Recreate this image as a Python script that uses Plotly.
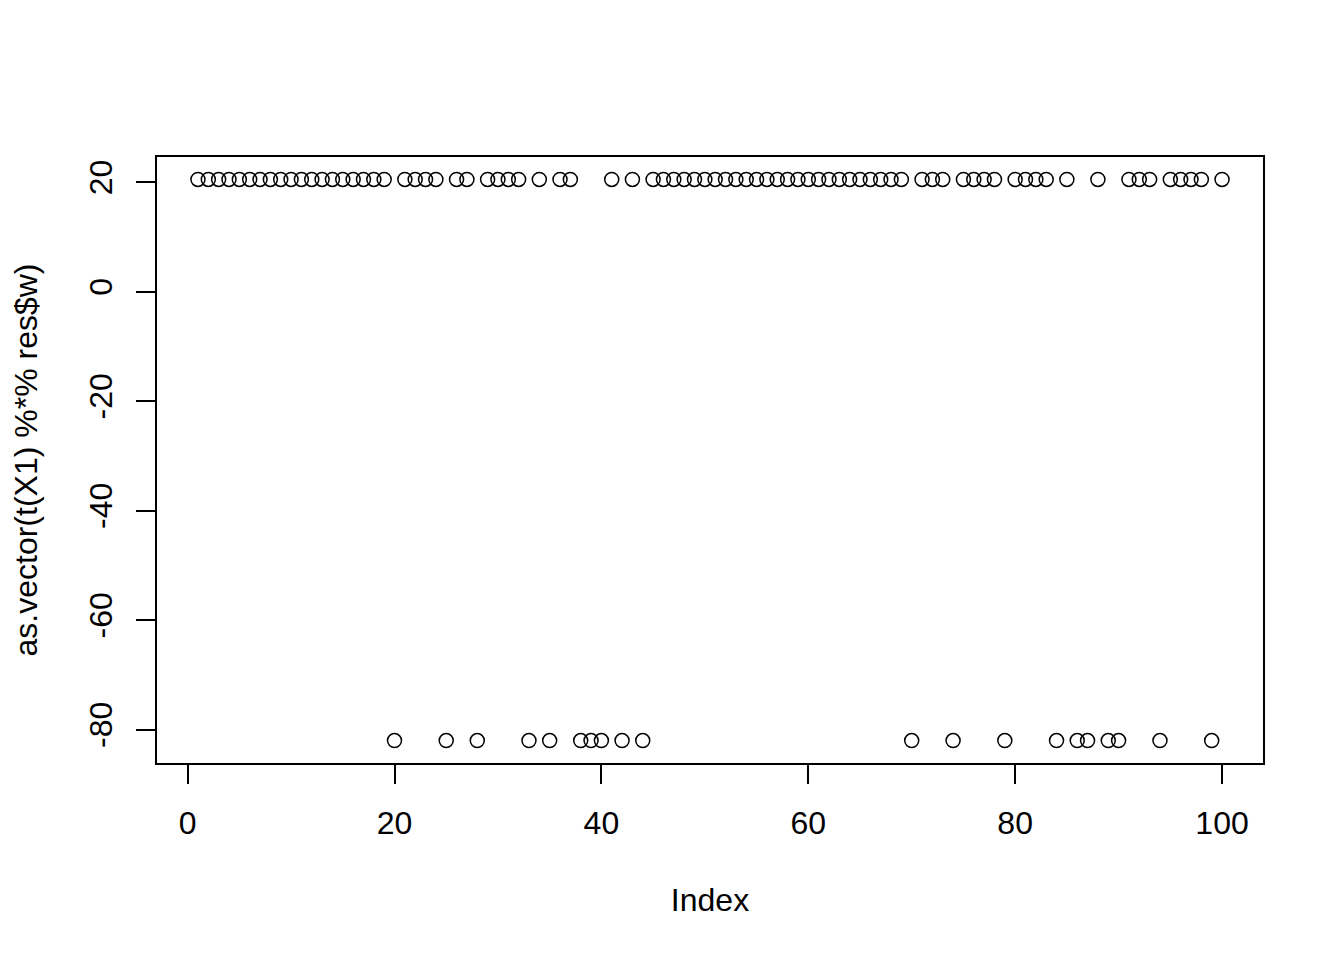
import plotly.graph_objects as go

index = list(range(1, 101))
H, L = 20.5, -82.0
values = [
    H, H, H, H, H, H, H, H, H, H,
    H, H, H, H, H, H, H, H, H, L,
    H, H, H, H, L, H, H, L, H, H,
    H, H, L, H, L, H, H, L, L, L,
    H, L, H, L, H, H, H, H, H, H,
    H, H, H, H, H, H, H, H, H, H,
    H, H, H, H, H, H, H, H, H, L,
    H, H, H, L, H, H, H, H, L, H,
    H, H, H, L, H, L, L, H, L, L,
    H, H, H, L, H, H, H, H, L, H,
]
x_ticks = [0, 20, 40, 60, 80, 100]
y_ticks = [-80, -60, -40, -20, 0, 20]

FONT = "Liberation Sans, Arial, Helvetica, sans-serif"

fig = go.Figure(go.Scatter(
    x=index, y=values, mode="markers",
    marker=dict(symbol="circle-open", size=14, color="black", line=dict(width=1.5, color="black")),
    hoverinfo="x+y",
))

fig.update_layout(
    width=1344, height=960,
    paper_bgcolor="white", plot_bgcolor="white",
    margin=dict(l=149, r=89, t=149, b=205, autoexpand=False),
    font=dict(family=FONT, size=32, color="black"),
    showlegend=False,
)
fig.update_xaxes(
    range=[-2.96, 103.96], tickvals=x_ticks, ticktext=[str(v) for v in x_ticks],
    showgrid=False, zeroline=False, showline=True, mirror=True, linecolor="black", linewidth=1.5,
    ticks="outside", ticklen=19, tickwidth=1.5, tickcolor="black",
    ticklabelstandoff=12,
    title=dict(text="Index", standoff=48, font=dict(size=32)),
    automargin=False,
)
fig.update_yaxes(
    range=[-86.1, 24.6], tickvals=y_ticks, ticktext=[str(v) for v in y_ticks],
    showgrid=False, zeroline=False, showline=True, mirror=True, linecolor="black", linewidth=1.5,
    ticks="outside", ticklen=19, tickwidth=1.5, tickcolor="black", tickangle=-90,
    ticklabelstandoff=11,
    title=dict(text="as.vector(t(X1) %*% res$w)", standoff=39, font=dict(size=32)),
    automargin=False,
)

fig.write_html("out.html")
